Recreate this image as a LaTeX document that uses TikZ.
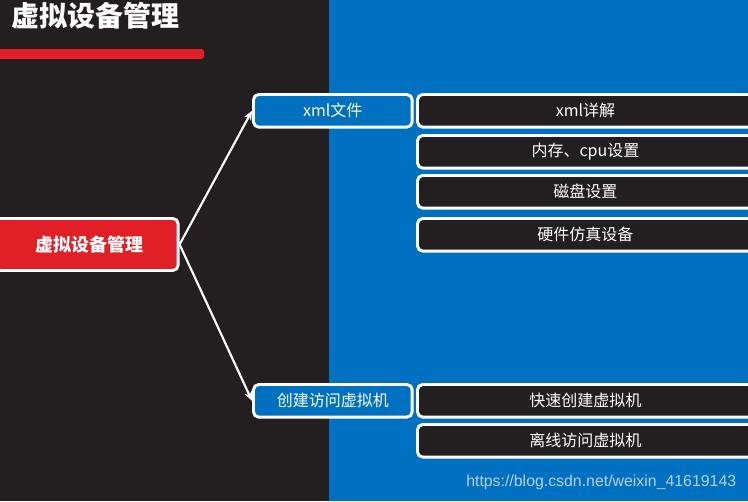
\documentclass[tikz,border=0pt]{standalone}
\usepackage{fontspec}
\setmainfont{Noto Sans CJK SC}
\newfontfamily\wmfont{Liberation Sans}
\usetikzlibrary{arrows.meta}
\definecolor{darkbg}{HTML}{231F20}
\definecolor{bluebg}{HTML}{0070C0}
\definecolor{redfill}{HTML}{E01F27}
\definecolor{wmcol}{HTML}{B8CFE8}
\tikzset{
  px/.style={x=0.75pt,y=-0.75pt},
  box/.style={draw=white,line width=2.2pt,rounded corners=4pt,text=white,inner sep=0pt,anchor=north west,font=\fontsize{12}{14}\selectfont},
  midbox/.style={box,fill=bluebg,minimum width=119pt,minimum height=24.5pt},
  leafbox/.style={box,fill=darkbg,minimum width=252pt,minimum height=24.5pt},
  conn/.style={draw=white,line width=1.6pt,-{Stealth[length=7pt,width=6pt]}}
}
\begin{document}
\begin{tikzpicture}[px]
\useasboundingbox (0,0) rectangle (748,501);
\fill[darkbg] (0,0) rectangle (329,501);
\fill[bluebg] (329,0) rectangle (748,501);
\node[anchor=west,text=white,font=\fontsize{21}{25}\selectfont\bfseries,inner sep=0pt] (title) at (11,16) {虚拟设备管理};
\fill[redfill,rounded corners=2pt] (-5,49) rectangle (204,59);
\node[box,fill=redfill,minimum width=137pt,minimum height=39pt,font=\fontsize{13.5}{16}\selectfont\bfseries] (main) at (-6,217) {\hspace*{4pt}虚拟设备管理};
\node[midbox] (xml) at (252,93) {xml文件};
\node[midbox] (create) at (252,383) {创建访问虚拟机};
\node[leafbox] (l1) at (416,93) {xml详解};
\node[leafbox] (l2) at (416,134) {内存、cpu设置};
\node[leafbox] (l3) at (416,174) {磁盘设置};
\node[leafbox] (l4) at (416,217) {硬件仿真设备};
\node[leafbox] (l5) at (416,383) {快速创建虚拟机};
\node[leafbox] (l6) at (416,423) {离线访问虚拟机};
\draw[conn] (main.east) -- (xml.west);
\draw[conn] (main.east) -- (create.west);
\node[anchor=west,text=wmcol,font=\wmfont\fontsize{11.9}{14}\selectfont,inner sep=0pt] (wm) at (466,482) {https://blog.csdn.net/weixin\_41619143};
\end{tikzpicture}
\end{document}
